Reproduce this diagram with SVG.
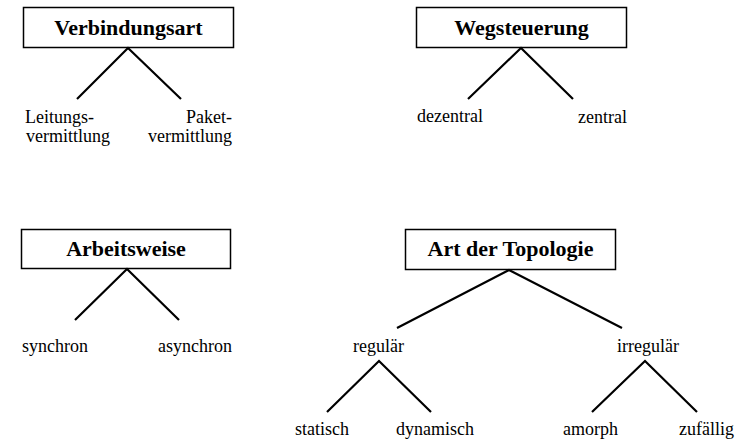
<svg xmlns="http://www.w3.org/2000/svg" width="751" height="441" viewBox="0 0 751 441">
  <style>
    .box { fill: #ffffff; stroke: #000000; stroke-width: 1.5; }
    .title { font-family: "Liberation Serif", "Times New Roman", serif; font-weight: bold; font-size: 22px; fill: #000000; text-anchor: middle; }
    .label { font-family: "Liberation Serif", "Times New Roman", serif; font-size: 18px; fill: #000000; }
    .edge { stroke: #000000; stroke-width: 2.2; fill: none; stroke-linecap: butt; }
  </style>
  <rect width="751" height="441" fill="#ffffff"/>

  <!-- Verbindungsart -->
  <g id="verbindungsart">
    <rect class="box" x="23.5" y="7.5" width="210" height="40"/>
    <text class="title" x="128.5" y="34.5">Verbindungsart</text>
  </g>
  <g id="leitungsvermittlung">
    <text class="label" x="25" y="123">Leitungs-</text>
    <text class="label" x="26" y="142">vermittlung</text>
  </g>
  <g id="paketvermittlung">
    <text class="label" x="232" y="123" text-anchor="end">Paket-</text>
    <text class="label" x="232" y="142" text-anchor="end">vermittlung</text>
  </g>

  <!-- Wegsteuerung -->
  <g id="wegsteuerung">
    <rect class="box" x="416.5" y="7.5" width="210" height="40"/>
    <text class="title" x="521.5" y="34.5">Wegsteuerung</text>
  </g>
  <g id="dezentral">
    <text class="label" x="417" y="122">dezentral</text>
  </g>
  <g id="zentral">
    <text class="label" x="578" y="123">zentral</text>
  </g>

  <!-- Arbeitsweise -->
  <g id="arbeitsweise">
    <rect class="box" x="21.5" y="229.5" width="209" height="39"/>
    <text class="title" x="126" y="256">Arbeitsweise</text>
  </g>
  <g id="synchron">
    <text class="label" x="22" y="352">synchron</text>
  </g>
  <g id="asynchron">
    <text class="label" x="232" y="352" text-anchor="end">asynchron</text>
  </g>

  <!-- Art der Topologie -->
  <g id="topologie">
    <rect class="box" x="405.5" y="229.5" width="210" height="40"/>
    <text class="title" x="510.5" y="256">Art der Topologie</text>
  </g>
  <g id="regulaer">
    <text class="label" x="353" y="352">regulär</text>
  </g>
  <g id="irregulaer">
    <text class="label" x="617" y="352">irregulär</text>
  </g>
  <g id="statisch">
    <text class="label" x="295" y="435">statisch</text>
  </g>
  <g id="dynamisch">
    <text class="label" x="396" y="435">dynamisch</text>
  </g>
  <g id="amorph">
    <text class="label" x="563" y="435">amorph</text>
  </g>
  <g id="zufaellig">
    <text class="label" x="679" y="435">zufällig</text>
  </g>

  <!-- Connectors -->
  <g id="connectors">
    <polyline class="edge" points="77,99 128,48 181,99"/>
    <polyline class="edge" points="468,99 521,48 573,99"/>
    <polyline class="edge" points="75,320 127,269 179,320"/>
    <polyline class="edge" points="397,328 509,270 622,328"/>
    <polyline class="edge" points="327,412 379,361 431,412"/>
    <polyline class="edge" points="592,412 645,361 697,412"/>
  </g>
</svg>
